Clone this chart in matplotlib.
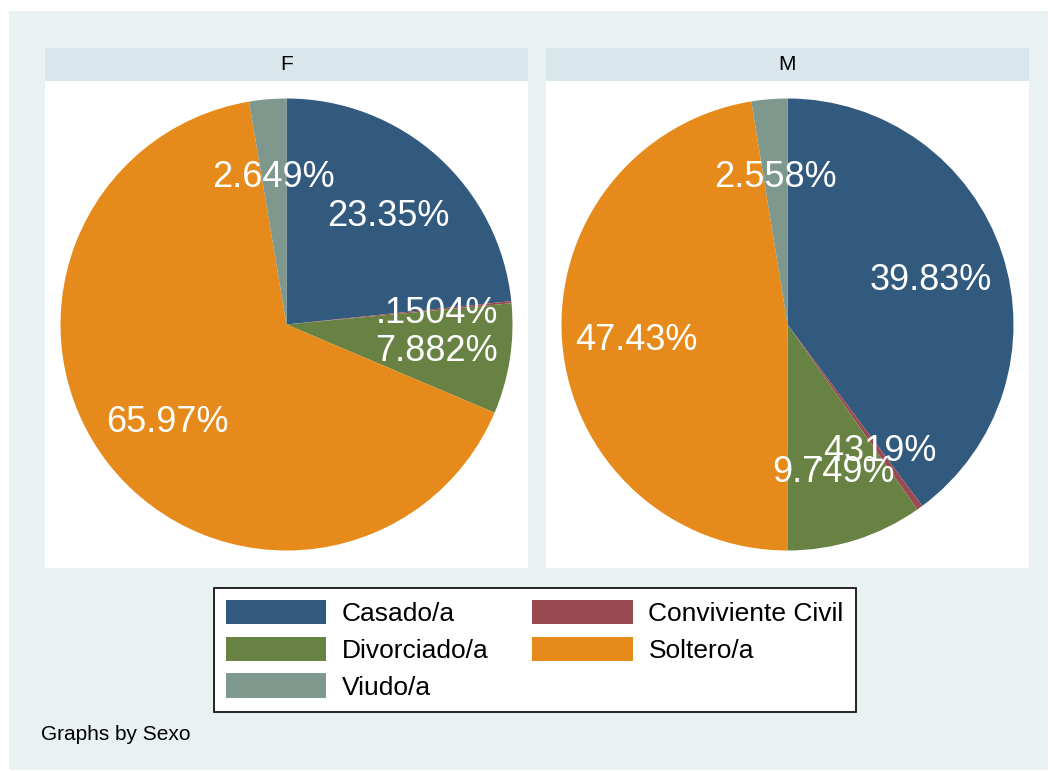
import matplotlib.pyplot as plt
import matplotlib.patches as mpatches
import numpy as np

categorias = ["Casado/a", "Conviviente Civil", "Divorciado/a", "Soltero/a", "Viudo/a"]
colores = ["#325A7E", "#9C4A52", "#678242", "#E68B1B", "#7E988E"]
paneles = ["F", "M"]
pct_F = [23.35, 0.1504, 7.882, 65.97, 2.649]
pct_M = [39.83, 0.4319, 9.749, 47.43, 2.558]
datos = {"F": pct_F, "M": pct_M}

plt.rcParams['font.family'] = ['Liberation Sans', 'DejaVu Sans']

W, H = 1050, 771
fig = plt.figure(figsize=(W / 100, H / 100), dpi=100, facecolor="white")


def caja(x0, y0, x1, y1):
    # rect en pixeles (origen arriba-izquierda) -> coords de figura
    return [x0 / W, 1 - y1 / H, (x1 - x0) / W, (y1 - y0) / H]


def etiqueta(v):
    s = f"{v:.4g}"
    if s.startswith("0."):
        s = s[1:]
    return s + "%"


# fondo exterior
fondo = mpatches.Rectangle((9 / W, 1 - 770 / H), (1048 - 9) / W, (770 - 11) / H,
                           transform=fig.transFigure, facecolor="#EAF1F3",
                           edgecolor="none", zorder=-5)
fig.patches.append(fondo)

x_paneles = [(45, 528), (546, 1029)]
for nombre, (x0, x1) in zip(paneles, x_paneles):
    # cabecera
    cab = fig.add_axes(caja(x0, 48, x1, 81))
    cab.set_facecolor("#D9E6EB")
    cab.set_xticks([])
    cab.set_yticks([])
    for s in cab.spines.values():
        s.set_visible(False)
    cab.text(0.5, 0.5, nombre, ha="center", va="center", fontsize=15, color="black",
             transform=cab.transAxes)

    ax = fig.add_axes(caja(x0, 81, x1, 568))
    wedges, _ = ax.pie(datos[nombre], colors=colores, startangle=90, counterclock=False,
                       radius=226, wedgeprops=dict(linewidth=0))
    ax.set_frame_on(True)
    ax.set_facecolor("white")
    for s in ax.spines.values():
        s.set_visible(False)
    ax.set_aspect("auto")
    ax.set_xlim(-(x1 - x0) / 2, (x1 - x0) / 2)
    ax.set_ylim(-(568 - 81) / 2, (568 - 81) / 2)
    ax.set_xticks([])
    ax.set_yticks([])
    for w, v in zip(wedges, datos[nombre]):
        ang = np.deg2rad((w.theta1 + w.theta2) / 2)
        r = 226 * 0.67
        ax.text(r * np.cos(ang), r * np.sin(ang) - 4, etiqueta(v), ha="center", va="center",
                fontsize=26, color="white")

# orden por filas como en la leyenda original
orden = [0, 2, 4, 1, 3]
handles = [mpatches.Patch(facecolor=colores[i], edgecolor="none") for i in orden]
etiquetas = [categorias[i] for i in orden]
leg = fig.legend(handles, etiquetas, ncol=2, loc="upper left",
                 bbox_to_anchor=(214 / W, 1 - 588 / H), bbox_transform=fig.transFigure,
                 fontsize=19, frameon=True, fancybox=False, edgecolor="black",
                 framealpha=1, facecolor="white",
                 handlelength=3.8, handleheight=1.05, handletextpad=0.6,
                 columnspacing=1.65, labelspacing=0.4, borderpad=0.45, borderaxespad=0)
leg.get_frame().set_linewidth(1.2)

fig.text(41 / W, 1 - 735 / H, "Graphs by Sexo", ha="left", va="center", fontsize=15)

fig.savefig("out.png", dpi=100, facecolor="white")
